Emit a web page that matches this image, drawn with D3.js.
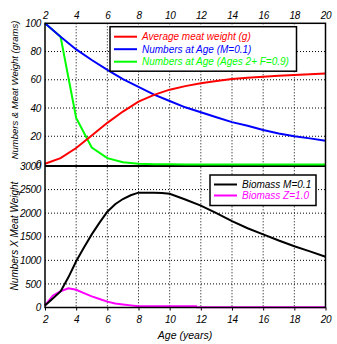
<!DOCTYPE html>
<html>
<head>
<meta charset="utf-8">
<script src="https://cdn.jsdelivr.net/npm/d3@7"></script>
<style>
  body { margin: 0; background: #fff; }
  svg text { font-family: "Liberation Sans", Arial, sans-serif; font-style: italic; font-size: 10px; }
  .grid line { stroke: #000; stroke-width: 1; stroke-dasharray: 1,2; }
</style>
</head>
<body>
<div class="plots"></div>
<script>
// per-age values (top panel)
var ages = [2,3,4,5,6,7,8,9,10,11,12,13,14,15,16,17,18,19,20];
var meatWeight = [0.5,4.5,11.7,20.5,29.5,37.5,44.5,49.3,53,55.5,57.5,59.2,60.5,61.5,62.2,62.8,63.4,64,64.5];
var numbersM = [100,90.5,81.5,74,67,60.5,55,49.5,45,40.5,37,33.5,30,27.5,24.5,22,20,18.5,16.8];
var numbersF = [100,90.5,33,12,4.5,1.6,0.6,0.2,0.1,0,0,0,0,0,0,0,0,0,0];

// biomass (bottom panel)
var bioAges = [2,2.5,3,3.5,4,4.5,5,5.5,6,6.5,7,7.5,8,9,9.5,10,11,12,13,14,15,16,17,18,19,20];
var biomassM = [45,190,340,640,980,1270,1550,1800,2030,2190,2300,2380,2435,2435,2430,2410,2290,2160,2000,1830,1680,1550,1420,1300,1190,1075];
var zAges = [2,2.5,3,3.5,4,4.5,5,5.5,6,6.5,7,7.5,8,9,10,11,11.7,11.75,20];
var biomassZ = [45,250,345,408,375,305,235,180,125,85,65,45,28,25,25,25,25,5,5];

var xTicks = [2,4,6,8,10,12,14,16,18,20];
var topTicks = [0,20,40,60,80,100];
var botTicks = [0,500,1000,1500,2000,2500,3000];

var width = 337, height = 344;

var svg = d3.select(".plots").append("svg")
      .attr("width", width)
      .attr("height", height);

var x = d3.scaleLinear().domain([2,20]).range([45,325.5]);
var yTop = d3.scaleLinear().domain([0,100]).range([164.5,23.3]);
var yBot = d3.scaleLinear().domain([0,3000]).range([307.5,166]);

// dotted grid
var grid = svg.append("g").attr("class","grid");
grid.selectAll(".vt").data(xTicks.slice(1,-1)).enter().append("line")
    .attr("x1", x).attr("x2", x).attr("y1", 23.3).attr("y2", 307.5);
grid.selectAll(".ht").data(topTicks.slice(1,-1)).enter().append("line")
    .attr("x1", 45).attr("x2", 325.5)
    .attr("y1", yTop).attr("y2", yTop);
grid.selectAll(".hb").data(botTicks.slice(1,-1)).enter().append("line")
    .attr("x1", 45).attr("x2", 325.5)
    .attr("y1", yBot).attr("y2", yBot);

// axes
var fmt = d3.format("d");
var topAxis = svg.append("g")
    .attr("transform","translate(0,23.3)")
    .call(d3.axisTop(x).tickValues(xTicks).tickFormat(fmt).tickSize(0).tickPadding(4));
var bottomAxis = svg.append("g")
    .attr("transform","translate(0,307.5)")
    .call(d3.axisBottom(x).tickValues(xTicks).tickFormat(fmt).tickSize(3).tickPadding(5));
var leftTop = svg.append("g")
    .attr("transform","translate(45,0)")
    .call(d3.axisLeft(yTop).tickValues(topTicks).tickFormat(fmt).tickSize(0).tickPadding(4));
var leftBot = svg.append("g")
    .attr("transform","translate(45,0)")
    .call(d3.axisLeft(yBot).tickValues(botTicks).tickFormat(fmt).tickSize(0).tickPadding(4));

[topAxis,bottomAxis,leftTop,leftBot].forEach(function(a){
  a.select(".domain").remove();
  a.selectAll("text").attr("fill","#000")
    .style("font-size","10px").style("font-family","Liberation Sans, Arial, sans-serif")
    .style("letter-spacing","-0.3px");
  a.selectAll("line").attr("stroke","#000");
});

// separator between the two panels (under the curves)
svg.append("line").attr("x1",45).attr("x2",325.5).attr("y1",166).attr("y2",166)
    .attr("stroke","#000").attr("stroke-width",2);

// series
var lineTop = d3.line()
    .x(function(d){ return x(d[0]); })
    .y(function(d){ return yTop(d[1]); });
var lineBot = d3.line()
    .x(function(d){ return x(d[0]); })
    .y(function(d){ return yBot(d[1]); });

function pairs(xs, ys){ return xs.map(function(v,i){ return [v, ys[i]]; }); }

svg.append("path").datum(pairs(ages, numbersF))
    .attr("fill","none").attr("stroke","#00ff00").attr("stroke-width",2).attr("d", lineTop);
svg.append("path").datum(pairs(ages, numbersM))
    .attr("fill","none").attr("stroke","#0000ff").attr("stroke-width",2).attr("d", lineTop);
svg.append("path").datum(pairs(ages, meatWeight))
    .attr("fill","none").attr("stroke","#ff0000").attr("stroke-width",2).attr("d", lineTop);

svg.append("path").datum(pairs(zAges, biomassZ))
    .attr("fill","none").attr("stroke","#ff00ff").attr("stroke-width",2).attr("d", lineBot);
svg.append("path").datum(pairs(bioAges, biomassM))
    .attr("fill","none").attr("stroke","#000").attr("stroke-width",2).attr("d", lineBot);

// frame
svg.append("rect").attr("x",45).attr("y",23.3).attr("width",280.5).attr("height",284.2)
    .attr("fill","none").attr("stroke","#000").attr("stroke-width",1.5);

// legends
function legend(box, items){
  var g = svg.append("g");
  g.append("rect").attr("x",box.x).attr("y",box.y).attr("width",box.w).attr("height",box.h)
    .attr("fill","#fff").attr("stroke","#000").attr("stroke-width",1.5);
  items.forEach(function(it,i){
    var yy = box.y + box.first + i*box.step;
    g.append("line").attr("x1",box.x+4).attr("x2",box.x+27).attr("y1",yy).attr("y2",yy)
      .attr("stroke",it.color).attr("stroke-width",2);
    g.append("text").attr("x",box.x+32).attr("y",yy).attr("dy","0.35em")
      .attr("fill",it.color).text(it.label);
  });
}

legend({x:110,y:26.7,w:186.5,h:44.5,first:10,step:12.5}, [
  {label:"Average meat weight (g)", color:"#ff0000"},
  {label:"Numbers at Age (M=0.1)", color:"#0000ff"},
  {label:"Numbers at Age (Ages 2+ F=0.9)", color:"#00ff00"}
]);
legend({x:210,y:175,w:106,h:30.5,first:9.5,step:11}, [
  {label:"Biomass M=0.1", color:"#000"},
  {label:"Biomass Z=1.0", color:"#ff00ff"}
]);

// axis titles
svg.append("text").attr("x",185).attr("y",339).attr("text-anchor","middle")
    .style("font-size","10.5px").text("Age (years)");
svg.append("text").attr("transform","translate(17.5,90) rotate(-90)").attr("text-anchor","middle")
    .style("font-size","9.5px").text("Numbers & Meat Weight (grams)");
svg.append("text").attr("transform","translate(17.5,236) rotate(-90)").attr("text-anchor","middle")
    .text("Numbers X Meat Weight");
</script>
</body>
</html>
